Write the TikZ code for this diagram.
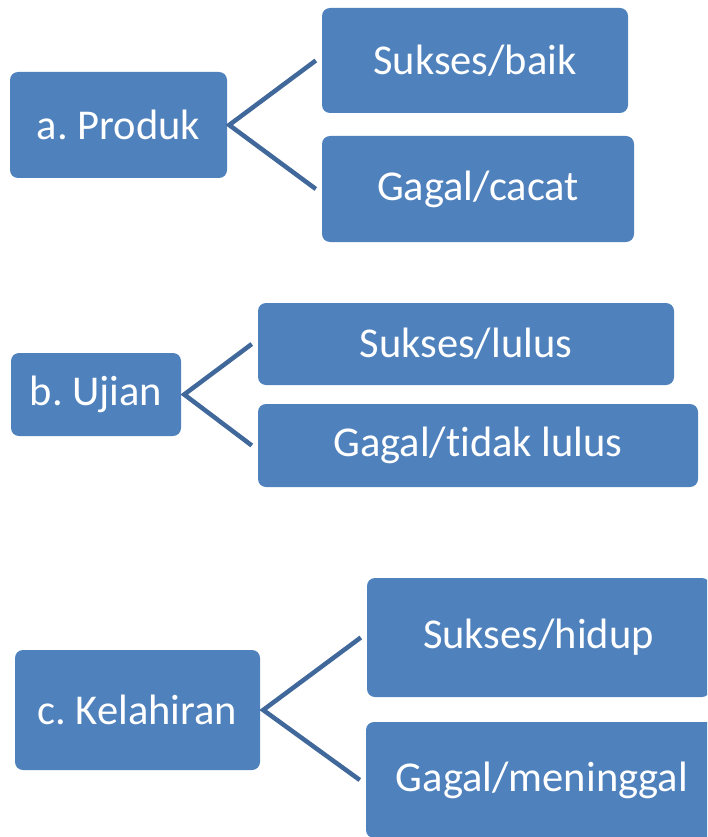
\documentclass[tikz,border=0pt]{standalone}
\usepackage{fontspec}
\setmainfont[Ligatures=CommonOff]{Carlito}
\definecolor{boxblue}{HTML}{4F81BD}
\definecolor{lineblue}{HTML}{41689A}
\begin{document}
\begin{tikzpicture}[x=1pt,y=-1pt,
  bx/.style={draw=none,fill=boxblue,rounded corners=8pt,text=white,inner sep=0pt,
    font=\fontsize{42.5}{50}\selectfont\frenchspacing,anchor=center},
  conn/.style={draw=lineblue,line width=4.5pt}]
\clip (0,0) rectangle (707,837);
\useasboundingbox (0,0) rectangle (707,837);
% group a
\node[bx,minimum width=217pt,minimum height=106pt] (a) at (118.5,125) {a. Produk};
\node[bx,minimum width=306pt,minimum height=105pt] (a1) at (475,60.5) {Sukses/baik};
\node[bx,minimum width=312pt,minimum height=106pt] (a2) at (478,189) {Gagal/cacat};
\coordinate (ap) at ([xshift=2pt]a.east);
\draw[conn] ([xshift=-6pt]a1.west) -- (ap) -- ([xshift=-6pt]a2.west);
% group b
\node[bx,minimum width=170pt,minimum height=83pt] (b) at (96,394.5) {b. Ujian};
\node[bx,minimum width=416pt,minimum height=82pt] (b1) at (466,344) {Sukses/lulus};
\node[bx,minimum width=440pt,minimum height=83pt] (b2) at (478,445.5) {Gagal/tidak lulus};
\coordinate (bp) at ([xshift=3pt]b.east);
\draw[conn] ([xshift=-6pt]b1.west) -- (bp) -- ([xshift=-6pt]b2.west);
% group c
\node[bx,minimum width=245pt,minimum height=120pt] (c) at (137.5,710) {c. Kelahiran};
\node[bx,minimum width=343pt,minimum height=119pt] (c1) at (538.5,637.5) {Sukses/hidup};
\node[bx,minimum width=352pt,minimum height=116pt] (c2) at (542,780) {Gagal/meninggal};
\coordinate (cp) at ([xshift=3pt]c.east);
\draw[conn] ([xshift=-6pt]c1.west) -- (cp) -- ([xshift=-6pt]c2.west);
\end{tikzpicture}
\end{document}
